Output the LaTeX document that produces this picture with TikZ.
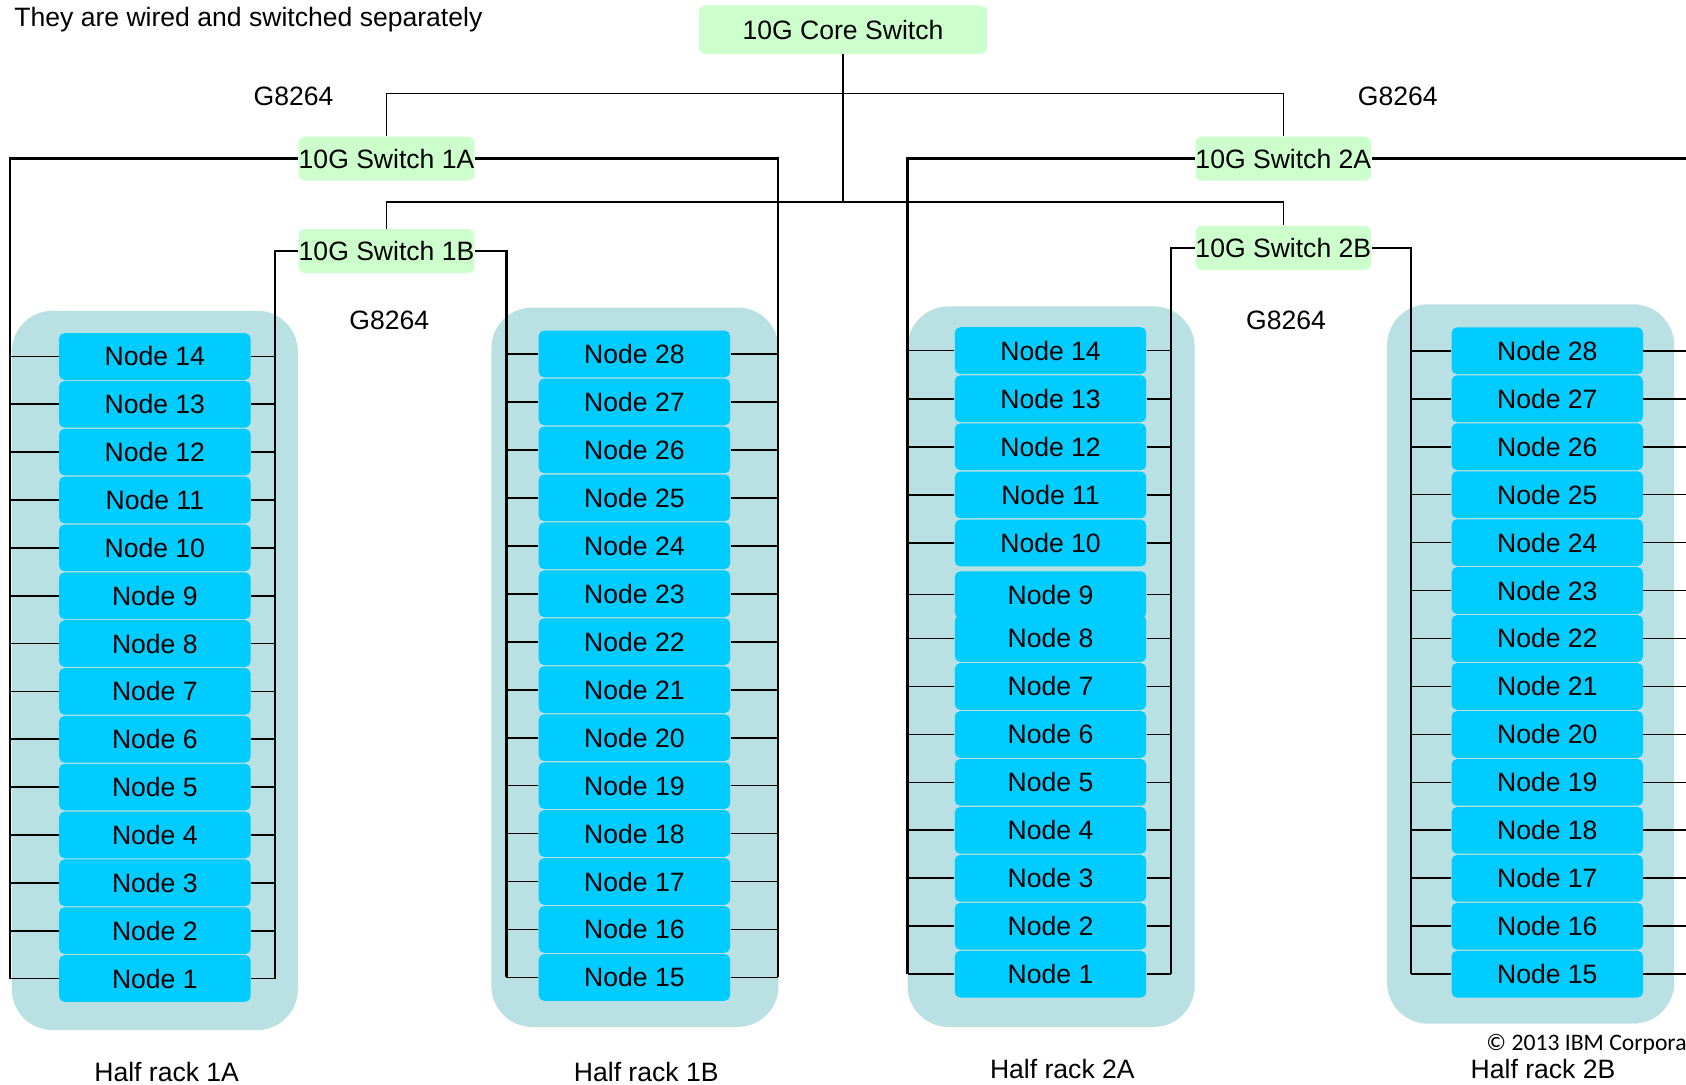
\documentclass[tikz,border=0pt]{standalone}
\usepackage{fontspec}
\setmainfont{Liberation Sans}
\newfontfamily\copyfont{Carlito}
\definecolor{swgreen}{HTML}{CCFFCC}
\definecolor{nodecyan}{HTML}{00CCFF}
\definecolor{rackblue}{HTML}{B9E0E3}
\begin{document}
\begin{tikzpicture}[x=0.5pt,y=-0.5pt,
  txt/.style={font=\fontsize{12.35}{14}\selectfont, inner sep=0pt},
  switchbox/.style={txt, fill=swgreen, rounded corners=3pt, minimum width=81.5pt, minimum height=20.5pt},
  corebox/.style={switchbox, minimum width=134pt, minimum height=22.5pt},
  nodebox/.style={txt, fill=nodecyan, rounded corners=2.5pt, minimum width=89pt, minimum height=21.7pt},
  rack/.style={fill=rackblue, rounded corners=19pt},
  wire/.style={line width=1.1pt},
  stub/.style={line width=0.8pt},
  uplink/.style={line width=0.7pt},
]
\useasboundingbox (0,0) rectangle (1568,1009);
\clip (0,0) rectangle (1568,1009);

% rack enclosures
\fill[rack] (11,289) rectangle (277,958);
\fill[rack] (457,286) rectangle (724,955);
\fill[rack] (844,285) rectangle (1111,955);
\fill[rack] (1290,283) rectangle (1557,952);

% bus positions (x only)
\coordinate (busAL) at (9.5,0);
\coordinate (busAR) at (255.5,0);
\coordinate (busBL) at (471,0);
\coordinate (busBR) at (723.5,0);
\coordinate (busCL) at (844,0);
\coordinate (busCR) at (1089,0);
\coordinate (busDL) at (1312,0);
\coordinate (busDR) at (1600,0);

% half rack 1A
\foreach \k [evaluate=\k as \yy using 910-(\k-1)*44.5] in {1,...,14}{
  \node[nodebox] (a\k) at (144,\yy) {Node \k};
  \draw[stub] (a\k.west) -- (a\k.west -| busAL);
  \draw[stub] (a\k.east) -- (a\k.east -| busAR);
}
% half rack 1B
\foreach \k [evaluate=\k as \yy using 909-(\k-15)*44.6] in {15,...,28}{
  \node[nodebox] (b\k) at (590,\yy) {Node \k};
  \draw[stub] (b\k.west) -- (b\k.west -| busBL);
  \draw[stub] (b\k.east) -- (b\k.east -| busBR);
}
% half rack 2A
\foreach \k/\yy in {1/906,2/861.4,3/816.8,4/772.2,5/727.6,6/683,7/638.4,8/593.8,
                    9/553,10/505,11/460.25,12/415.5,13/370.75,14/326}{
  \node[nodebox] (c\k) at (977,\yy) {Node \k};
  \draw[stub] (c\k.west) -- (c\k.west -| busCL);
  \draw[stub] (c\k.east) -- (c\k.east -| busCR);
}
% half rack 2B
\foreach \k [evaluate=\k as \yy using 906-(\k-15)*44.6] in {15,...,28}{
  \node[nodebox] (d\k) at (1439,\yy) {Node \k};
  \draw[stub] (d\k.west) -- (d\k.west -| busDL);
  \draw[stub] (d\k.east) -- (d\k.east -| busDR);
}

% switches
\node[corebox] (core) at (784,27.5) {10G Core Switch};
\node[switchbox] (sw1A) at (359.5,147.5) {10G Switch 1A};
\node[switchbox] (sw1B) at (359.5,233.5) {10G Switch 1B};
\node[switchbox] (sw2A) at (1193.5,147.5) {10G Switch 2A};
\node[switchbox] (sw2B) at (1193.5,230.5) {10G Switch 2B};

% core uplinks
\coordinate (topbus) at (784,87);
\coordinate (midbus) at (784,188);
\draw[uplink] (core.south) -- (midbus);
\draw[uplink] (sw1A.north) |- (topbus) -| (sw2A.north);
\draw[uplink] (sw1B.north) |- (midbus) -| (sw2B.north);

% switch to rack wiring
\draw[wire] (sw1A.west) -| (a1.west -| busAL);
\draw[wire] (sw1A.east) -| (b15.east -| busBR);
\draw[wire] (sw1B.west) -| (a1.east -| busAR);
\draw[wire] (sw1B.east) -| (b15.west -| busBL);
\draw[wire] (sw2A.west) -| (c1.west -| busCL);
\draw[wire] (sw2A.east) -- (sw2A.east -| busDR);
\draw[wire] (sw2B.west) -| (c1.east -| busCR);
\draw[wire] (sw2B.east) -| (d15.west -| busDL);

% labels
\node[txt, anchor=base west] (head) at (13,25) {They are wired and switched separately};
\node[txt] (g1) at (273,90) {G8264};
\node[txt] (g2) at (362,298) {G8264};
\node[txt] (g3) at (1300,90) {G8264};
\node[txt] (g4) at (1196,298) {G8264};
\node[txt] (hA) at (155,997) {Half rack 1A};
\node[txt] (hB) at (601,997) {Half rack 1B};
\node[txt] (hC) at (988,994) {Half rack 2A};
\node[txt] (hD) at (1435,994) {Half rack 2B};
\node[inner sep=0pt, anchor=base west, font=\copyfont\fontsize{11}{13}\selectfont] (copy) at (1382,977) {© 2013 IBM Corpora};
\end{tikzpicture}
\end{document}
